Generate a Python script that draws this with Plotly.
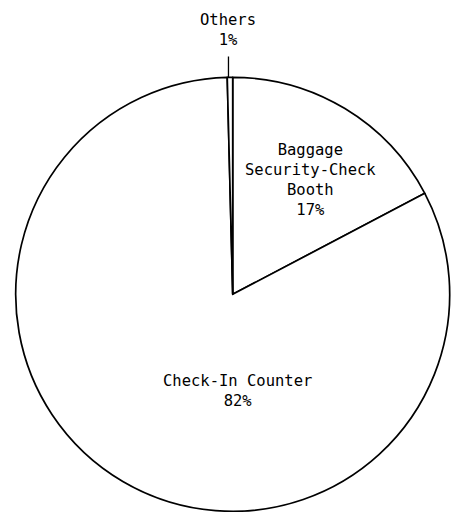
import math
import plotly.graph_objects as go

# Data
categories = ["Baggage<br>Security-Check<br>Booth", "Check-In Counter", "Others"]
values = [17.3, 82.3, 0.4]
pct_labels = ["17%", "82%", "1%"]

W, H = 454, 512
# pie geometry in pixels
cx_px, cy_px, r_px = 232.7, 294.3, 217.0
dom_x = [(cx_px - r_px) / W, (cx_px + r_px) / W]
dom_y = [1 - (cy_px + r_px) / H, 1 - (cy_px - r_px) / H]

FONT = dict(family="DejaVu Sans Mono", size=15.5, color="black")

fig = go.Figure(go.Pie(
    labels=categories,
    values=values,
    sort=False,
    direction="clockwise",
    rotation=0,
    textinfo="none",
    hoverinfo="label+percent",
    marker=dict(colors=["white"] * 3, line=dict(color="black", width=1.7)),
    domain=dict(x=dom_x, y=dom_y),
    showlegend=False,
    automargin=False,
))

def px(x, y):
    return x / W, 1 - y / H

# label positions (pixels) chosen to match the reference's layout
label_pos = [(310, 180), (237.5, 391)]
for i in range(2):
    x, y = px(*label_pos[i])
    fig.add_annotation(x=x, y=y, xref="paper", yref="paper",
                       text=f"{categories[i]}<br>{pct_labels[i]}",
                       showarrow=False, font=FONT, align="center",
                       xanchor="center", yanchor="middle")

# Others: outside label with a vertical leader line down to the slice rim
total = sum(values)
start = sum(values[:2]) / total * 360
mid = math.radians(start + values[2] / total * 360 / 2)
tip_x = cx_px + r_px * math.sin(mid) - 1.5
tip_y = cy_px - r_px * math.cos(mid)
tx, ty = px(tip_x, tip_y)
fig.add_annotation(x=tx, y=ty, xref="paper", yref="paper",
                   text=f"{categories[2]}<br>{pct_labels[2]}",
                   showarrow=True, arrowhead=0, arrowwidth=1.3, arrowcolor="black",
                   ax=0, ay=30 - tip_y, axref="pixel", ayref="pixel",
                   font=FONT, align="center", standoff=0, startstandoff=6)

fig.update_layout(
    width=W, height=H, autosize=False,
    margin=dict(l=0, r=0, t=0, b=0),
    paper_bgcolor="white", plot_bgcolor="white",
)

fig.write_html("out.html")
